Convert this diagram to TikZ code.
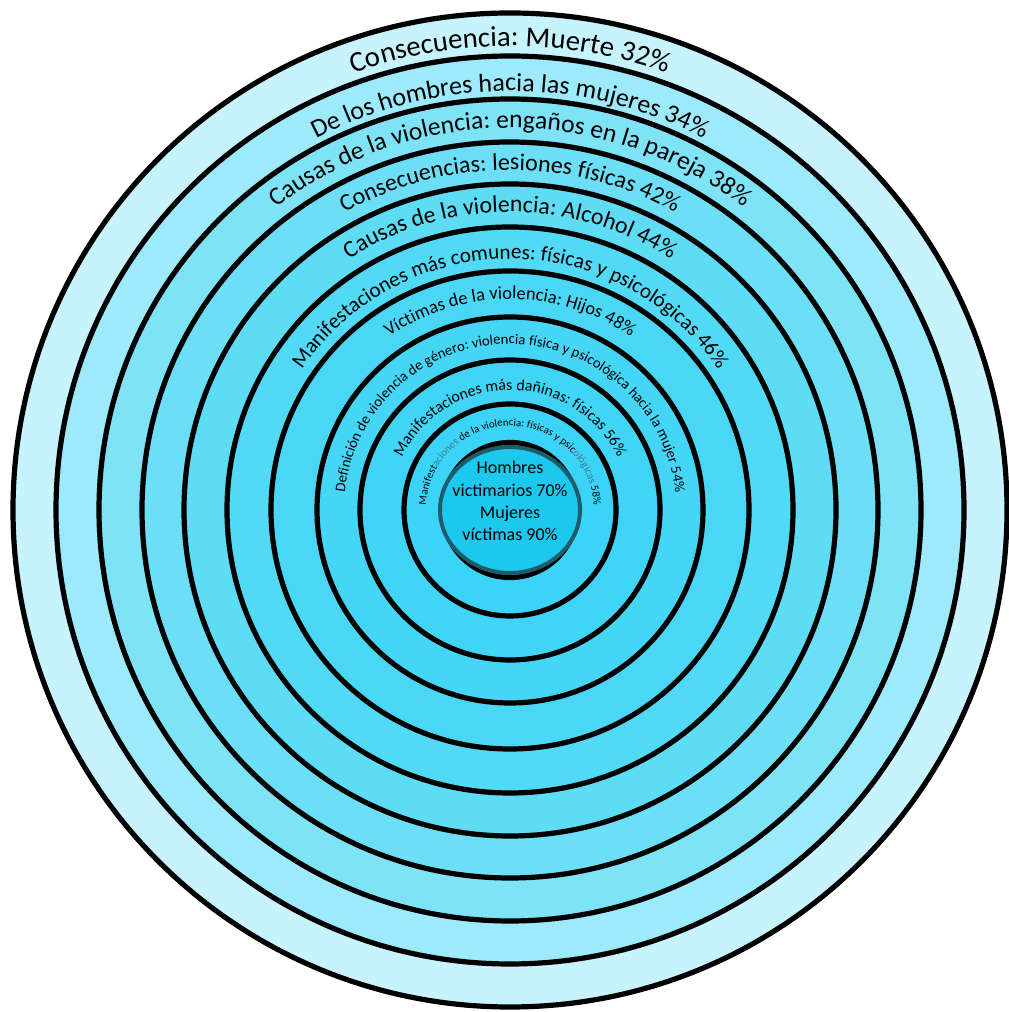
\documentclass[tikz,border=0pt]{standalone}
\usepackage{fontspec}
\setmainfont{Carlito}
\usetikzlibrary{decorations.text}
\definecolor{ringA}{HTML}{C6F3FE}
\definecolor{ringB}{HTML}{9CEAFB}
\definecolor{ringC}{HTML}{7FE3F8}
\definecolor{ringD}{HTML}{6CDFF6}
\definecolor{ringE}{HTML}{5EDCF5}
\definecolor{ringF}{HTML}{52D9F5}
\definecolor{ringG}{HTML}{4AD7F6}
\definecolor{ringH}{HTML}{45D6F7}
\definecolor{ringI}{HTML}{40D5F7}
\definecolor{ringJ}{HTML}{3BD4F8}
\definecolor{centfill}{HTML}{1CC8EE}
\definecolor{centborder}{HTML}{1E5B6B}
\definecolor{tealg}{HTML}{3F7D8C}
\newcommand\ringtext[3]{%
  \path[decorate, decoration={text along path, text align=center,
    text={|\fontsize{#2}{#2}\selectfont|#3}}]
    (C) ++(190:#1) arc[start angle=190, end angle=-10, radius=#1];}
\tikzset{ringline/.style={draw=black, line width=5.2pt}}
\begin{document}
\begin{tikzpicture}[x=1pt, y=1pt]
\useasboundingbox (0,0) rectangle (1009,1012);
\coordinate (C) at (510,502);
\draw[ringline, fill=ringA] (C) circle[radius=497];
\draw[ringline, fill=ringB] (C) circle[radius=454];
\draw[ringline, fill=ringC] (C) circle[radius=411];
\draw[ringline, fill=ringD] (C) circle[radius=368];
\draw[ringline, fill=ringE] (C) circle[radius=326];
\draw[ringline, fill=ringF] (C) circle[radius=283];
\draw[ringline, fill=ringG] (C) circle[radius=239];
\draw[ringline, fill=ringH] (C) circle[radius=193];
\draw[ringline, fill=ringI] (C) circle[radius=150];
\draw[ringline, fill=ringJ] (C) circle[radius=106];
\draw[ringline, fill=ringJ] (C) circle[radius=67.5];
\draw[draw=centborder, line width=4pt, fill=centfill] (C) ellipse[x radius=70, y radius=63];
\ringtext{464}{28.8}{Consecuencia: Muerte 32{\%}}
\ringtext{419}{26}{De los hombres hacia las mujeres 34{\%}}
\ringtext{382}{25.6}{Causas de la violencia: engaños en la pareja 38{\%}}
\ringtext{340}{24}{Consecuencias: lesiones físicas 42{\%}}
\ringtext{298}{23.8}{Causas de la violencia: Alcohol 44{\%}}
\ringtext{251}{21.2}{Manifestaciones más comunes: físicas y psicológicas 46{\%}}
\ringtext{211}{18.5}{Víctimas de la violencia: Hijos 48{\%}}
\ringtext{166}{14.7}{Definición de violencia de género: violencia física y psicológica hacia la mujer 54{\%}}
\ringtext{120}{15.9}{Manifestaciones más dañinas: físicas 56{\%}}
\ringtext{84}{10.9}{Manifest|\fontsize{10.9}{10.9}\selectfont\color{tealg}|aciones |\fontsize{10.9}{10.9}\selectfont\color{black}|de la violencia: físicas y psic|\fontsize{10.9}{10.9}\selectfont\color{tealg}|ológicas |\fontsize{10.9}{10.9}\selectfont\color{black}|58{\%}}
\node[align=center, font=\fontsize{18}{22.3}\selectfont, inner sep=0pt] (centre) at (510,511)
  {Hombres\\victimarios 70\%\\Mujeres\\víctimas 90\%};
\end{tikzpicture}
\end{document}
